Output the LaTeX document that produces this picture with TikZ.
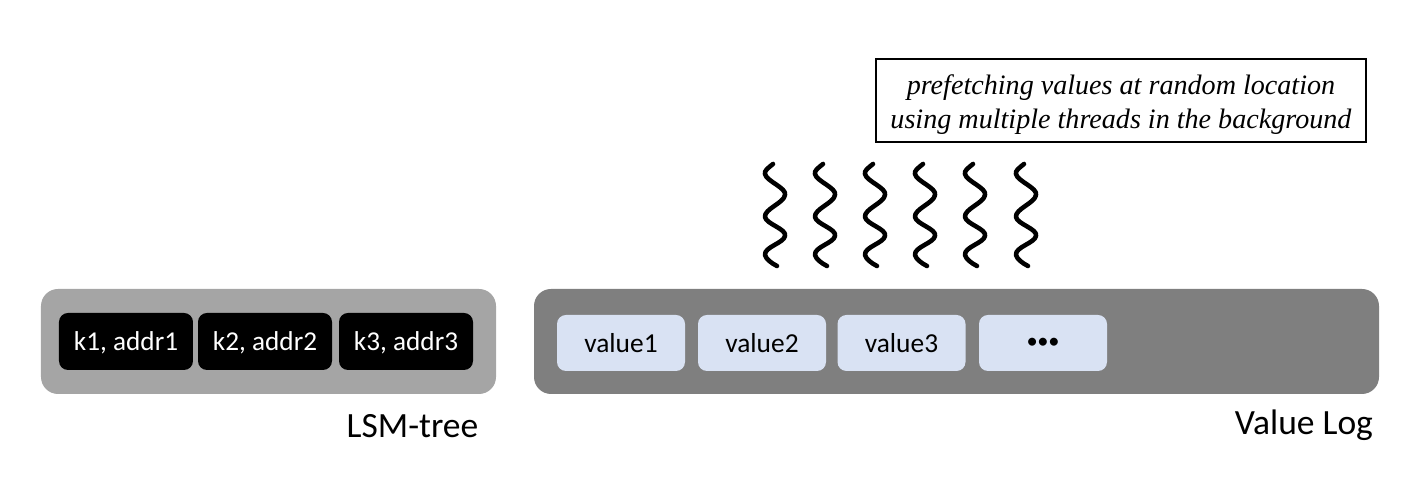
\documentclass[tikz,border=0pt]{standalone}
\usepackage{fontspec}
\setmainfont{Carlito}
\newfontfamily\notefont{Liberation Serif}
\definecolor{lsmgray}{HTML}{A5A5A5}
\definecolor{loggray}{HTML}{7F7F7F}
\definecolor{valueblue}{HTML}{D9E2F3}
\tikzset{
    keybox/.style={fill=black,text=white,rounded corners=0.09cm,minimum width=1.34cm,minimum height=0.57cm,font=\fontsize{7.75}{8}\selectfont,inner sep=0pt,text height=6.6pt,text depth=1.2pt},
    valuebox/.style={fill=valueblue,text=black,rounded corners=0.09cm,minimum width=1.28cm,minimum height=0.56cm,font=\fontsize{7.8}{8}\selectfont,inner sep=0pt},
    panel/.style={rounded corners=0.17cm,minimum height=1.05cm,inner sep=0pt},
    caption/.style={font=\fontsize{10.1}{12}\selectfont,inner sep=0pt},
    thread/.style={line width=1.3pt,line cap=round,line join=round}
}
\begin{document}
\begin{tikzpicture}
    \useasboundingbox (0,0) rectangle (14.19,5);

    \node[panel,fill=lsmgray,minimum width=4.55cm] (lsm) at (2.685,1.585) {};
    \node[keybox] (k1) at (1.26,1.585) {k1, addr1};
    \node[keybox] (k2) at (2.65,1.585) {k2, addr2};
    \node[keybox] (k3) at (4.06,1.585) {k3, addr3};
    \node[caption] (lsmname) at (4.125,0.74) {LSM-tree};

    \node[panel,fill=loggray,minimum width=8.45cm] (vlog) at (9.565,1.585) {};
    \node[valuebox] (v1) at (6.21,1.57) {value1};
    \node[valuebox] (v2) at (7.62,1.57) {value2};
    \node[valuebox] (v3) at (9.015,1.57) {value3};
    \node[valuebox,font=\fontsize{6.4}{8}\selectfont] (v4) at (10.43,1.57) {\textbullet\kern-0.1pt\textbullet\kern-0.1pt\textbullet};
    \node[caption] (vlogname) at (13.04,0.75) {Value Log};

    \node[draw=black,line width=0.6pt,minimum width=4.9cm,minimum height=0.83cm,inner sep=0pt,align=center,font=\notefont\itshape\fontsize{8}{9.6}\selectfont] (note) at (11.21,3.995)
        {\rule{0pt}{7.8pt}prefetching values at random location\\using multiple threads in the background};

    % background threads
    \foreach \x in {7.73,8.23,8.73,9.23,9.73,10.24} {
        \draw[thread,shift={(\x,0)}] (0,3.36) .. controls (-0.05,3.32) and (-0.09,3.29) .. (-0.08,3.26)
            .. controls (-0.07,3.19) and (0.14,3.12) .. (0.12,3.05)
            .. controls (0.11,2.97) and (-0.09,2.91) .. (-0.08,2.83)
            .. controls (-0.07,2.76) and (0.14,2.71) .. (0.12,2.64)
            .. controls (0.11,2.57) and (-0.09,2.53) .. (-0.08,2.45)
            .. controls (-0.07,2.41) and (-0.02,2.37) .. (0.04,2.34);
    }
\end{tikzpicture}
\end{document}
